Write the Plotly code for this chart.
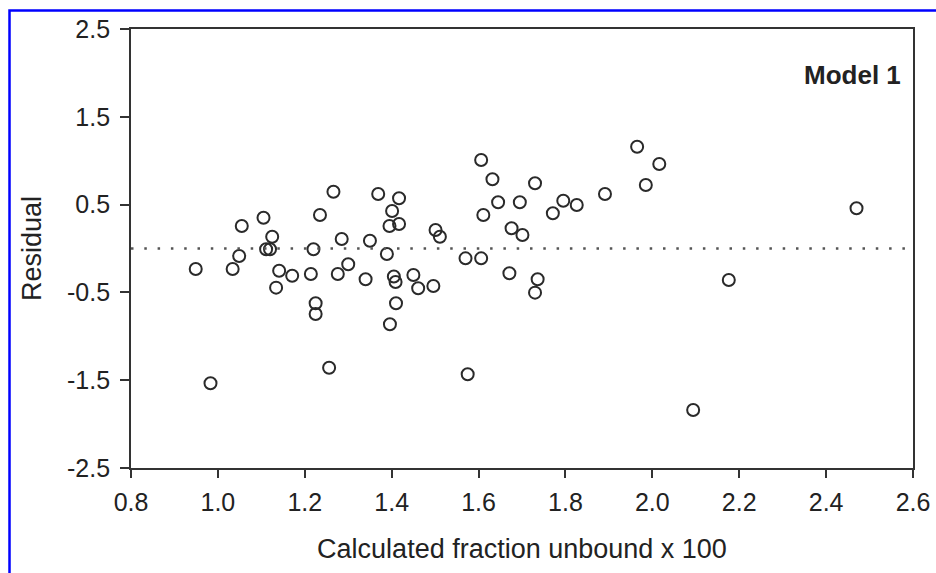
import plotly.graph_objects as go

# Calculated fraction unbound x 100
fraction_unbound = [
    0.949, 0.983, 1.034, 1.049, 1.055, 1.105, 1.111, 1.120, 1.125, 1.134,
    1.141, 1.171, 1.214, 1.220, 1.225, 1.225, 1.235, 1.256, 1.266, 1.276,
    1.285, 1.300, 1.340, 1.350, 1.369, 1.389, 1.395, 1.396, 1.401, 1.405,
    1.409, 1.410, 1.417, 1.417, 1.450, 1.461, 1.496, 1.501, 1.511, 1.570,
    1.575, 1.606, 1.606, 1.611, 1.632, 1.645, 1.671, 1.676, 1.695, 1.701,
    1.730, 1.730, 1.736, 1.771, 1.795, 1.826, 1.891, 1.965, 1.985, 2.016,
    2.094, 2.176, 2.470,
]
# Residual
residual = [
    -0.233, -1.535, -0.233, -0.085, 0.256, 0.351, -0.009, -0.009, 0.134, -0.446,
    -0.253, -0.310, -0.290, -0.009, -0.624, -0.746, 0.382, -1.358, 0.647, -0.290,
    0.108, -0.180, -0.351, 0.089, 0.621, -0.063, 0.256, -0.863, 0.427, -0.319,
    -0.382, -0.624, 0.572, 0.279, -0.302, -0.453, -0.427, 0.211, 0.134, -0.112,
    -1.433, 1.008, -0.112, 0.382, 0.788, 0.526, -0.282, 0.230, 0.526, 0.154,
    0.743, -0.503, -0.351, 0.401, 0.544, 0.495, 0.621, 1.159, 0.723, 0.962,
    -1.839, -0.359, 0.458,
]

x_ticks = [0.8, 1.0, 1.2, 1.4, 1.6, 1.8, 2.0, 2.2, 2.4, 2.6]
x_tick_labels = ["0.8", "1.0", "1.2", "1.4", "1.6", "1.8", "2.0", "2.2", "2.4", "2.6"]
y_ticks = [-2.5, -1.5, -0.5, 0.5, 1.5, 2.5]
y_tick_labels = ["-2.5", "-1.5", "-0.5", "0.5", "1.5", "2.5"]
x_range = [0.8, 2.6]
y_range = [-2.5, 2.5]
panel_label = "Model 1"
x_title = "Calculated fraction unbound x 100"
y_title = "Residual"

FONT = "Liberation Sans, Arial, Helvetica, sans-serif"
TXT = "#222222"
AX = "#333333"

W, H = 936, 573
L, R, T, B = 131, 23, 29, 105
PW, PH = W - L - R, H - T - B

fig = go.Figure()
fig.add_trace(go.Scatter(
    x=fraction_unbound, y=residual, mode="markers",
    marker=dict(symbol="circle-open", size=12, color="#2a2a2a",
                line=dict(width=2, color="#2a2a2a")),
    showlegend=False, hoverinfo="x+y",
))

# dotted zero reference line
fig.add_hline(y=0, line=dict(color="#555555", width=2.5, dash="2.5px,10.8px"))

# blue frame around the figure (right and bottom edges fall outside the image)
fig.add_shape(type="rect", xref="paper", yref="paper",
              x0=(9.5 - L) / PW, x1=2.0, y0=-1.5, y1=(H - B - 10.5) / PH,
              line=dict(color="#0000ff", width=2.5), fillcolor="rgba(0,0,0,0)")

fig.add_annotation(text="<b>" + panel_label + "</b>", xref="paper", yref="paper",
                   x=(903 - L) / PW, y=(H - B - 75) / PH, xanchor="right", yanchor="middle",
                   showarrow=False, font=dict(family=FONT, size=26, color=TXT))

fig.update_layout(
    width=W, height=H,
    margin=dict(l=L, r=R, t=T, b=B, autoexpand=False),
    paper_bgcolor="white", plot_bgcolor="white",
    font=dict(family=FONT, size=25, color=TXT),
    xaxis=dict(range=x_range, tickvals=x_ticks, ticktext=x_tick_labels,
               showgrid=False, zeroline=False, showline=True, mirror=True,
               linecolor=AX, linewidth=1.8, ticks="outside", ticklen=8,
               tickwidth=1.8, tickcolor=AX, ticklabelstandoff=3,
               tickfont=dict(size=25),
               title=dict(text=x_title, standoff=24, font=dict(size=27)),
               automargin=False),
    yaxis=dict(range=y_range, tickvals=y_ticks, ticktext=y_tick_labels,
               showgrid=False, zeroline=False, showline=True, mirror=True,
               linecolor=AX, linewidth=1.8, ticks="outside", ticklen=9,
               tickwidth=1.8, tickcolor=AX, ticklabelstandoff=5,
               tickfont=dict(size=25),
               title=dict(text=y_title, standoff=18, font=dict(size=27)),
               automargin=False),
)

fig.write_html("out.html", config={"displayModeBar": False},
               post_script="document.body.style.margin='0px';document.body.style.overflow='hidden';")
